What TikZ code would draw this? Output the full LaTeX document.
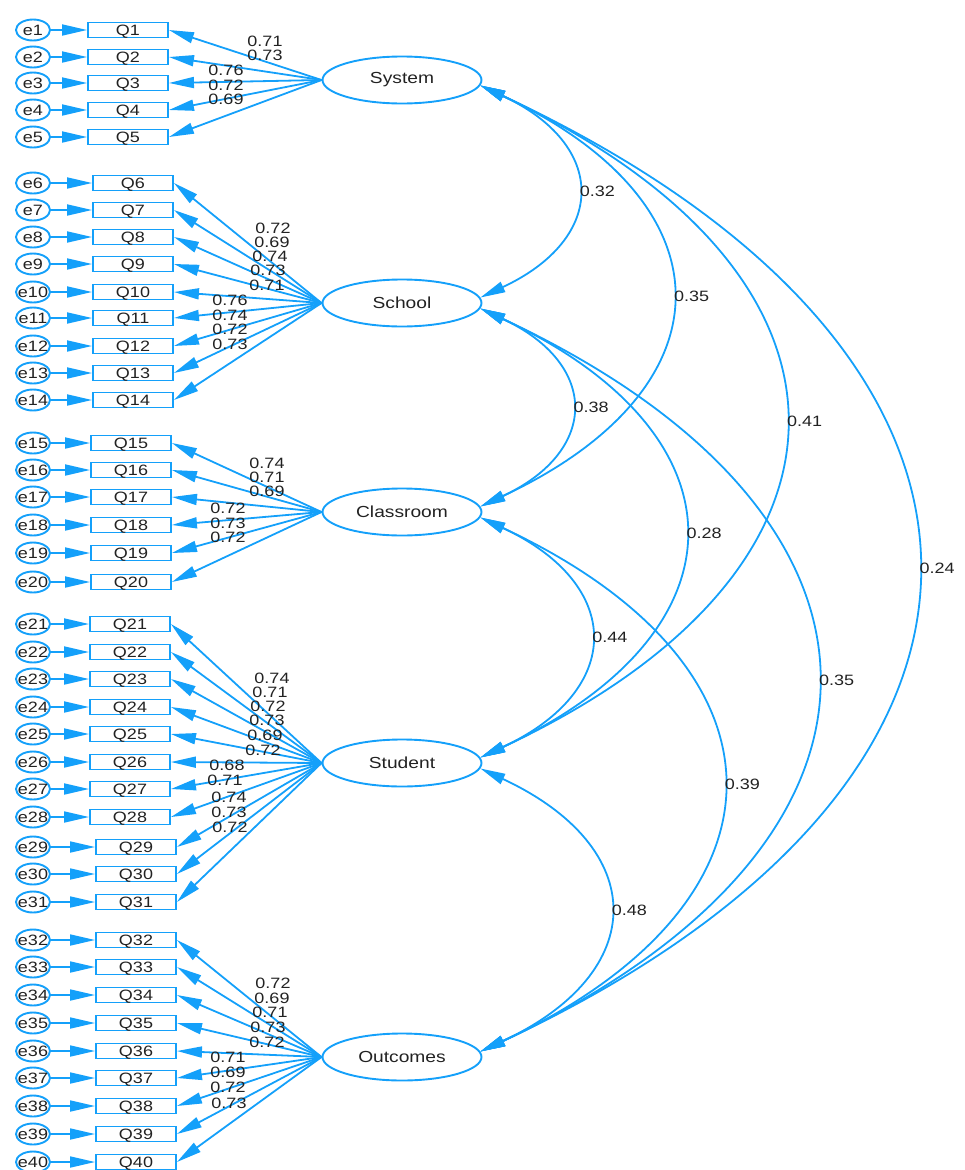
\documentclass[tikz,border=0pt]{standalone}
\usepackage{fontspec}
\setmainfont{Liberation Sans}[FakeStretch=1.2]
\usetikzlibrary{positioning}
\usetikzlibrary{arrows.meta}
\usetikzlibrary{shapes.geometric}
\definecolor{amosblue}{RGB}{20,160,250}
\definecolor{amostext}{RGB}{34,34,34}

\begin{document}
\begin{tikzpicture}[x=1pt, y=-1pt,
    factor/.style={draw=amosblue, ellipse, line width=1.9pt, minimum width=159pt, minimum height=47pt, inner sep=0pt, text=amostext, font=\fontsize{16}{18}\selectfont},
    item/.style={draw=amosblue, rectangle, line width=1.9pt, minimum width=80pt, minimum height=15pt, inner sep=0pt, text height=10.8pt, text depth=0pt, text=amostext, font=\fontsize{15}{16}\selectfont},
    err/.style={draw=amosblue, ellipse, line width=1.9pt, minimum width=34pt, minimum height=21pt, inner sep=0pt},
    val/.style={text=amostext, inner sep=0pt, text height=10.8pt, text depth=0pt, font=\fontsize{15}{16}\selectfont},
    load/.style={draw=amosblue, line width=1.8pt, -{Triangle[length=25pt, width=11pt]}},
    cov/.style={draw=amosblue, line width=1.8pt, {Triangle[length=25pt, width=11pt]}-{Triangle[length=25pt, width=11pt]}, out=-25, in=25, looseness=1.7}]
    \useasboundingbox (0,0) rectangle (965,1170);

    % factors
    \node[factor] (sys) at (402,80) {System};
    \node[factor] (sch) at (402,303) {School};
    \node[factor] (cls) at (402,512) {Classroom};
    \node[factor] (stu) at (402,763) {Student};
    \node[factor] (out) at (402,1057) {Outcomes};

    % items and errors
    \foreach \i/\x/\y in {1/128/30, 2/128/57, 3/128/83, 4/128/110, 5/128/137} {
        \node[item] (q\i) at (\x,\y) {Q\i};
        \node[err, label={[val]center:e\i}] (e\i) at (33,\y) {};
        \draw[load] (e\i) -- (q\i);
        \draw[load] (sys.west) -- (q\i.east);
    }
    \foreach \i/\x/\y in {6/133/183, 7/133/210, 8/133/237, 9/133/264, 10/133/292, 11/133/318, 12/133/346, 13/133/373, 14/133/400} {
        \node[item] (q\i) at (\x,\y) {Q\i};
        \node[err, label={[val]center:e\i}] (e\i) at (33,\y) {};
        \draw[load] (e\i) -- (q\i);
        \draw[load] (sch.west) -- (q\i.east);
    }
    \foreach \i/\x/\y in {15/131/443, 16/131/470, 17/131/497, 18/131/525, 19/131/553, 20/131/582} {
        \node[item] (q\i) at (\x,\y) {Q\i};
        \node[err, label={[val]center:e\i}] (e\i) at (33,\y) {};
        \draw[load] (e\i) -- (q\i);
        \draw[load] (cls.west) -- (q\i.east);
    }
    \foreach \i/\x/\y in {21/130/624, 22/130/652, 23/130/679, 24/130/707, 25/130/734, 26/130/762, 27/130/789, 28/130/817, 29/136/847, 30/136/874, 31/136/902} {
        \node[item] (q\i) at (\x,\y) {Q\i};
        \node[err, label={[val]center:e\i}] (e\i) at (33,\y) {};
        \draw[load] (e\i) -- (q\i);
        \draw[load] (stu.west) -- (q\i.east);
    }
    \foreach \i/\x/\y in {32/136/940, 33/136/967, 34/136/995, 35/136/1023, 36/136/1051, 37/136/1078, 38/136/1106, 39/136/1134, 40/136/1162} {
        \node[item] (q\i) at (\x,\y) {Q\i};
        \node[err, label={[val]center:e\i}] (e\i) at (33,\y) {};
        \draw[load] (e\i) -- (q\i);
        \draw[load] (out.west) -- (q\i.east);
    }

    % loadings
    \foreach \v/\lx/\ly [count=\k] in {0.71/265/41, 0.73/265/55, 0.76/226/70, 0.72/226/85, 0.69/226/99,
        0.72/273/228, 0.69/272/242, 0.74/270/256, 0.73/268/270, 0.71/267/285, 0.76/230/300, 0.74/230/315, 0.72/230/329, 0.73/230/344,
        0.74/267/463, 0.71/267/477, 0.69/267/491, 0.72/228/508, 0.73/228/523, 0.72/228/537,
        0.74/272/678, 0.71/270/692, 0.72/268/706, 0.73/267/720, 0.69/265/735, 0.72/263/750, 0.68/227/765, 0.71/225/780, 0.74/229/797, 0.73/229/812, 0.72/230/827,
        0.72/273/983, 0.69/272/998, 0.71/270/1012, 0.73/268/1027, 0.72/267/1042, 0.71/228/1057, 0.69/228/1072, 0.72/228/1087, 0.73/229/1103}
        \node[val] (l\k) at (\lx,\ly) {\v};

    % covariances
    \draw[cov] (sys.-4) to node[val, right=3pt] (c1) {0.32} (sch.4);
    \draw[cov] (sys.-4) to node[val, right=3pt] (c2) {0.35} (cls.4);
    \draw[cov] (sys.-4) to node[val, right=3pt] (c3) {0.41} (stu.4);
    \draw[cov] (sys.-4) to node[val, right=3pt] (c4) {0.24} (out.4);
    \draw[cov] (sch.-4) to node[val, right=3pt] (c5) {0.38} (cls.4);
    \draw[cov] (sch.-4) to node[val, right=3pt] (c6) {0.28} (stu.4);
    \draw[cov] (sch.-4) to node[val, right=3pt] (c7) {0.35} (out.4);
    \draw[cov] (cls.-4) to node[val, right=3pt] (c8) {0.44} (stu.4);
    \draw[cov] (cls.-4) to node[val, right=3pt] (c9) {0.39} (out.4);
    \draw[cov] (stu.-4) to node[val, right=3pt] (c10) {0.48} (out.4);
\end{tikzpicture}
\end{document}
